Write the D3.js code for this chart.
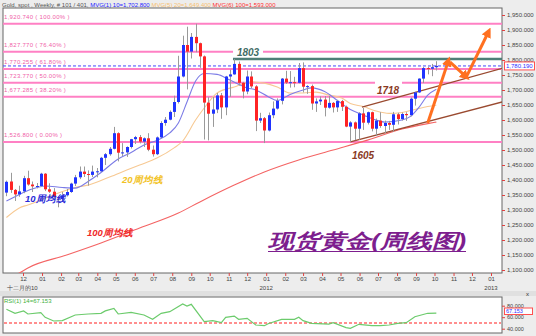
<!DOCTYPE html>
<html lang="zh">
<head>
<meta charset="UTF-8" />
<title>现货黄金(周线图)</title>
<script src="https://cdn.jsdelivr.net/npm/d3@7"></script>
<style>
  body { margin: 0; background: #ededed; }
  svg text { font-family: "Liberation Sans", Arial, sans-serif; }
</style>
</head>
<body>
<script>
// weekly gold bars, first bar = week of Mon 2010-11-01, 101 bars
var firstWeek = new Date(2010, 10, 1);
var weekOpen = [1358,1395,1367,1352,1362,1406,1385,1379,1380,1421,1369,1361,1343,1339,1349,1360,1388,1409,1428,1420,1417,1428,1429,1474,1486,1504,1556,1491,1492,1510,1536,1543,1528,1539,1501,1486,1542,1590,1601,1627,1660,1745,1850,1828,1877,1856,1812,1658,1621,1635,1682,1642,1745,1752,1787,1724,1695,1745,1712,1598,1606,1565,1616,1638,1664,1738,1725,1726,1724,1773,1711,1713,1655,1662,1668,1641,1657,1642,1663,1644,1578,1592,1571,1622,1591,1626,1571,1598,1580,1590,1584,1619,1603,1620,1616,1671,1692,1738,1773,1771,1776];
var weekHigh = [1398,1424,1370,1381,1414,1431,1395,1390,1424,1423,1389,1373,1345,1360,1370,1391,1417,1445,1445,1432,1448,1440,1477,1490,1510,1577,1559,1523,1512,1537,1547,1550,1542,1556,1515,1545,1596,1610,1632,1681,1814,1881,1911,1890,1921,1858,1815,1676,1677,1690,1690,1747,1768,1803,1795,1727,1765,1762,1716,1624,1610,1625,1662,1672,1740,1764,1763,1744,1790,1792,1716,1718,1672,1679,1680,1680,1660,1667,1667,1648,1596,1595,1626,1640,1628,1628,1605,1626,1598,1597,1627,1624,1625,1626,1675,1694,1739,1777,1778,1787,1796];
var weekLow = [1346,1357,1330,1344,1356,1381,1360,1372,1377,1363,1357,1335,1309,1327,1345,1357,1380,1403,1410,1381,1410,1409,1427,1450,1481,1502,1462,1480,1477,1505,1520,1522,1510,1496,1478,1483,1539,1581,1599,1610,1655,1742,1702,1805,1826,1774,1535,1532,1577,1623,1604,1616,1677,1751,1715,1672,1686,1706,1563,1590,1523,1562,1606,1635,1652,1720,1708,1709,1722,1692,1687,1634,1627,1650,1612,1638,1625,1627,1630,1576,1527,1533,1534,1567,1585,1562,1547,1574,1556,1567,1561,1585,1598,1597,1612,1648,1690,1723,1752,1746,1765];
var weekClose = [1394,1367,1352,1362,1406,1385,1379,1380,1421,1369,1361,1343,1339,1349,1360,1388,1409,1428,1420,1417,1428,1429,1474,1486,1504,1556,1491,1492,1510,1536,1543,1528,1539,1501,1486,1542,1590,1601,1627,1660,1745,1850,1828,1877,1856,1812,1658,1621,1635,1682,1642,1745,1752,1787,1724,1695,1745,1712,1598,1606,1565,1616,1638,1664,1738,1725,1726,1724,1773,1711,1713,1655,1662,1668,1641,1657,1642,1663,1644,1578,1592,1571,1622,1591,1626,1571,1598,1580,1590,1584,1619,1603,1620,1616,1671,1692,1738,1773,1771,1776,1780.19];

// moving averages (bar index, value)
var ma10Bars = [0,3,6,9,13,16,19,22,26,29,32,35,38,40,42,44,46,49,52,56,58,61,63,66,69,71,74,77,80,83,86,88,92,94,96,98,100];
var ma10 = [1330,1352,1370,1380,1375,1373,1395,1425,1470,1492,1517,1532,1557,1590,1660,1730,1755,1752,1733,1707,1700,1677,1665,1685,1700,1707,1695,1665,1635,1617,1600,1593,1600,1612,1643,1683,1702.8];
var ma20Bars = [0,3,5,10,16,19,24,28,31,35,39,41,44,46,49,53,57,60,63,66,69,72,75,78,80,83,86,89,92,95,98,100];
var ma20 = [1275,1307,1317,1345,1375,1383,1410,1433,1450,1473,1507,1530,1600,1640,1690,1710,1727,1723,1710,1690,1690,1693,1683,1673,1655,1645,1630,1622,1625,1635,1645,1649.4];
var ma100Bars = [0,3,5,14,22,31,40,45,53,60,68,76,84,92,98,100];
var ma100 = [1070,1090,1107,1150,1190,1240,1290,1327,1383,1427,1467,1500,1533,1570,1588,1593.0];

// RSI(14)
var rsiBars = [0,2,4,5,8,9,11,13,16,19,22,23,25,26,29,32,34,36,38,41,42,43,46,48,50,51,53,54,56,58,60,61,64,67,68,69,71,75,76,79,80,82,85,87,89,91,93,95,98,100];
var rsiValues = [73.7,66.8,70.8,65.6,67.8,59.8,53.4,54,63.8,65.6,66.8,71,75.4,65.6,68.5,63.8,56.3,66.8,69.6,83,79.5,82.4,52.2,54,50.5,59.8,62,56.3,58,46.4,45.2,49,56.3,56.3,59.8,54,49.4,48,50.4,41.8,40.7,47.6,45.2,45.2,46.4,49.4,50.4,60.9,66.8,67.153];

// fibonacci retracement levels
var fibLevels = [1920.740, 1827.770, 1770.255, 1723.770, 1677.285, 1526.800];
var fibPercents = ["100.00%", "76.40%", "61.80%", "50.00%", "38.20%", "0.00%"];

var priceTicks = d3.range(1100, 1951, 50);
var rsiTicks = [80, 60, 40];
var lastPrice = 1780.19, lastRsi = 67.153, highMark = 1803;

// hand drawn lines: [bar, price] pairs
var channelLow = [[80, 1527], [115.5, 1661]];
var channelHigh = [[82.7, 1643], [115.5, 1773]];
var arrows = [
  [[98, 1590], [102.7, 1793]],
  [[103.2, 1793], [106.7, 1747]],
  [[107.1, 1747], [112, 1890]]
];

var W = 536, H = 336;
var svg = d3.select("body").append("svg").attr("width", W).attr("height", H);
svg.append("rect").attr("width", W).attr("height", H).attr("fill", "#ededed");

var plot = { left: 3, top: 8, right: 502, bottom: 273 };
var x = d3.scaleTime()
  .domain([new Date(2010, 11, 1), new Date(2013, 0, 1)])
  .range([23, 491]);
var barDate = function (i) { return d3.timeDay.offset(d3.timeMonday.offset(firstWeek, i), 3); };
var xb = d3.scaleLinear().domain([0, 100]).range([x(barDate(0)), x(barDate(100))]);
var y = d3.scaleLinear().domain([1100, 1950]).range([270, 15]);
var yr = d3.scaleLinear().domain([40, 80]).range([328.7, 305.7]);

var defs = svg.append("defs");
defs.append("clipPath").attr("id", "clip").append("rect")
  .attr("x", plot.left).attr("y", plot.top)
  .attr("width", plot.right - plot.left).attr("height", plot.bottom - plot.top);
defs.append("marker").attr("id", "head")
  .attr("viewBox", "0 0 10 10").attr("refX", 4).attr("refY", 5)
  .attr("markerUnits", "userSpaceOnUse").attr("markerWidth", 10).attr("markerHeight", 10)
  .attr("orient", "auto")
  .append("path").attr("d", "M0,0 L10,5 L0,10 z").attr("fill", "#ff7020");

svg.append("rect")
  .attr("x", plot.left).attr("y", plot.top)
  .attr("width", plot.right - plot.left).attr("height", plot.bottom - plot.top)
  .attr("fill", "#fff").attr("stroke", "#666");

var g = svg.append("g").attr("clip-path", "url(#clip)");

// fib lines
g.selectAll(".fib").data(fibLevels).enter().append("line")
  .attr("x1", plot.left).attr("x2", plot.right)
  .attr("y1", function (d) { return y(d); }).attr("y2", function (d) { return y(d); })
  .attr("stroke", "#ff80c4").attr("stroke-width", 2);

g.selectAll(".fibtext").data(fibLevels).enter().append("text")
  .attr("x", 4).attr("y", function (d) { return y(d) - 4.5; })
  .attr("font-size", 6).attr("letter-spacing", 0.3).attr("fill", "#f060a8")
  .text(function (d, i) { return d3.format(",.3f")(d) + "  ( " + fibPercents[i] + " )"; });

// 1803 resistance
g.append("line")
  .attr("x1", xb(52.7)).attr("x2", plot.right)
  .attr("y1", y(highMark)).attr("y2", y(highMark))
  .attr("stroke", "#4f7e77").attr("stroke-width", 2.5);

// last price dashed line
g.append("line")
  .attr("x1", plot.left).attr("x2", plot.right)
  .attr("y1", y(lastPrice)).attr("y2", y(lastPrice))
  .attr("stroke", "#4848ff").attr("stroke-width", 1).attr("stroke-dasharray", "3,2");

// gaps behind hand written labels
g.append("rect").attr("x", 233).attr("y", 45).attr("width", 30).attr("height", 11).attr("fill", "#fff");
g.append("rect").attr("x", 375).attr("y", 79).attr("width", 27).attr("height", 9).attr("fill", "#fff");

// moving averages
function maLine(bars, vals) {
  return d3.line().x(function (d, i) { return xb(bars[i]); }).y(function (d) { return y(d); })
    .curve(d3.curveMonotoneX)(vals);
}
g.append("path").attr("d", maLine(ma100Bars, ma100)).attr("fill", "none").attr("stroke", "#f46464").attr("stroke-width", 1.1);
g.append("path").attr("d", maLine(ma20Bars, ma20)).attr("fill", "none").attr("stroke", "#f7c993").attr("stroke-width", 1.1);
g.append("path").attr("d", maLine(ma10Bars, ma10)).attr("fill", "none").attr("stroke", "#7c7ce6").attr("stroke-width", 1.1);

// channel
[channelLow, channelHigh].forEach(function (seg) {
  g.append("line")
    .attr("x1", xb(seg[0][0])).attr("y1", y(seg[0][1]))
    .attr("x2", xb(seg[1][0])).attr("y2", y(seg[1][1]))
    .attr("stroke", "#9a4a30").attr("stroke-width", 1.4);
});

// candles
var bars = g.selectAll(".bar").data(weekClose).enter().append("g");
bars.append("line")
  .attr("x1", function (d, i) { return Math.round(xb(i)) + 0.5; })
  .attr("x2", function (d, i) { return Math.round(xb(i)) + 0.5; })
  .attr("y1", function (d, i) { return y(weekHigh[i]); })
  .attr("y2", function (d, i) { return y(weekLow[i]); })
  .attr("stroke", "#9a9a9a").attr("stroke-width", 1);
bars.append("rect")
  .attr("x", function (d, i) { return Math.round(xb(i)) - 1; })
  .attr("width", 3)
  .attr("y", function (d, i) { return y(Math.max(weekOpen[i], d)); })
  .attr("height", function (d, i) { return Math.max(1, Math.abs(y(weekOpen[i]) - y(d))); })
  .attr("fill", function (d, i) { return d >= weekOpen[i] ? "#1f33ff" : "#ff2424"; });

// arrows
arrows.forEach(function (seg) {
  g.append("line")
    .attr("x1", xb(seg[0][0])).attr("y1", y(seg[0][1]))
    .attr("x2", xb(seg[1][0])).attr("y2", y(seg[1][1]))
    .attr("stroke", "#ff7020").attr("stroke-width", 3)
    .attr("marker-end", "url(#head)");
});

// hand written labels
var hand = function (t, px, py, c) {
  svg.append("text").attr("x", px).attr("y", py).attr("text-anchor", "middle")
    .attr("font-size", 10).attr("font-weight", "bold").attr("font-style", "italic")
    .attr("fill", c).text(t);
};
hand("1803", 248, 56, "#3f6b65");
hand("1718", 388, 94, "#8a3a24");
hand("1605", 363, 159, "#8a3a24");

var note = function (t, px, py, c) {
  svg.append("text").attr("x", px).attr("y", py)
    .attr("font-family", "Noto Sans CJK SC").attr("font-size", 9.5)
    .attr("font-style", "italic").attr("font-weight", "bold")
    .attr("fill", c).text(t);
};
note("10周均线", 25, 202, "#2a2ad8");
note("20周均线", 122, 183, "#f2c224");
note("100周均线", 87, 236, "#f02828");

svg.append("text").attr("x", 268).attr("y", 248)
  .attr("font-family", "Noto Sans CJK SC").attr("font-size", 20)
  .attr("font-weight", "bold").attr("font-style", "italic")
  .attr("textLength", 198).attr("lengthAdjust", "spacingAndGlyphs")
  .attr("fill", "#7d1e8e").text("现货黄金(周线图)");
svg.append("line").attr("x1", 268).attr("x2", 466).attr("y1", 251.5).attr("y2", 251.5)
  .attr("stroke", "#7d1e8e").attr("stroke-width", 1);

// header
var head = svg.append("text").attr("x", 2).attr("y", 7).attr("font-size", 6);
head.append("tspan").attr("fill", "#555").text("Gold, spot , Weekly, # 101 / 401, ");
head.append("tspan").attr("fill", "#2323ff").text("MVG(1) 10=" + d3.format(",.3f")(ma10[ma10.length - 1]) + " ");
head.append("tspan").attr("fill", "#f7c070").text("MVG(5) 20=" + d3.format(",.3f")(ma20[ma20.length - 1]) + " ");
head.append("tspan").attr("fill", "#ff3030").text("MVG(6) 100=" + d3.format(",.3f")(ma100[ma100.length - 1]));

// axes
function styleAxis(sel) {
  sel.select(".domain").remove();
  sel.selectAll(".tick line").attr("stroke", "#e04040");
  sel.selectAll(".tick text").attr("fill", "#444").attr("font-size", 6)
    .attr("font-family", "Liberation Sans, Arial, sans-serif");
}
svg.append("g").attr("transform", "translate(" + plot.right + ",0)")
  .call(d3.axisRight(y).tickValues(priceTicks).tickFormat(d3.format(",.3f")).tickSize(3).tickPadding(2))
  .call(styleAxis);
svg.append("g").attr("transform", "translate(0," + plot.bottom + ")")
  .call(d3.axisBottom(x).ticks(d3.timeMonth.every(1)).tickFormat(d3.timeFormat("%m")).tickSize(3).tickPadding(1))
  .call(styleAxis);

svg.selectAll(".year").data([new Date(2012, 0, 1), new Date(2013, 0, 1)]).enter().append("text")
  .attr("x", function (d) { return x(d); }).attr("y", 290)
  .attr("text-anchor", "middle").attr("font-size", 6).attr("fill", "#444")
  .text(function (d) { return d.getFullYear(); });
svg.append("text").attr("x", 7).attr("y", 290).attr("font-size", 6)
  .attr("font-family", "Noto Sans CJK SC").attr("fill", "#444").text("十二月的10");

// last price box
svg.append("rect").attr("x", 504.5).attr("y", y(lastPrice) - 4).attr("width", 30).attr("height", 8)
  .attr("fill", "#fff").attr("stroke", "#ff5050");
svg.append("text").attr("x", 506).attr("y", y(lastPrice) + 2.2).attr("font-size", 6)
  .attr("fill", "#3030ff").text(d3.format(",.3f")(lastPrice));

// RSI panel
svg.append("rect").attr("x", 0).attr("y", 291).attr("width", W).attr("height", 5).attr("fill", "#e0e0e0");
svg.append("text").attr("x", 526).attr("y", 296).attr("font-size", 6).attr("fill", "#333").text("x");
svg.append("rect").attr("x", plot.left).attr("y", 297).attr("width", plot.right - plot.left).attr("height", 36)
  .attr("fill", "#fff").attr("stroke", "#666");
svg.append("line").attr("x1", plot.left + 1).attr("x2", plot.right - 1)
  .attr("y1", yr(50)).attr("y2", yr(50))
  .attr("stroke", "#ff6a6a").attr("stroke-width", 1.5).attr("stroke-dasharray", "3,2");
svg.append("path")
  .attr("d", d3.line().x(function (d, i) { return xb(rsiBars[i]); }).y(function (d) { return yr(d); })(rsiValues))
  .attr("fill", "none").attr("stroke", "#6ccb6c").attr("stroke-width", 1.2);
svg.append("text").attr("x", 4).attr("y", 303).attr("font-size", 6).attr("fill", "#40b040")
  .text("RSI(1) 14=" + d3.format(".3f")(lastRsi));
svg.append("g").attr("transform", "translate(" + plot.right + ",0)")
  .call(d3.axisRight(yr).tickValues(rsiTicks).tickFormat(d3.format(".3f")).tickSize(3).tickPadding(2))
  .call(styleAxis)
  .selectAll(".tick text").attr("font-size", 5.5);
svg.append("rect").attr("x", 504.5).attr("y", 308).attr("width", 28).attr("height", 6.5)
  .attr("fill", "#fff").attr("stroke", "#ff5050");
svg.append("text").attr("x", 506).attr("y", 313.3).attr("font-size", 5.5)
  .attr("fill", "#3030ff").text(d3.format(".3f")(lastRsi));
</script>
</body>
</html>
